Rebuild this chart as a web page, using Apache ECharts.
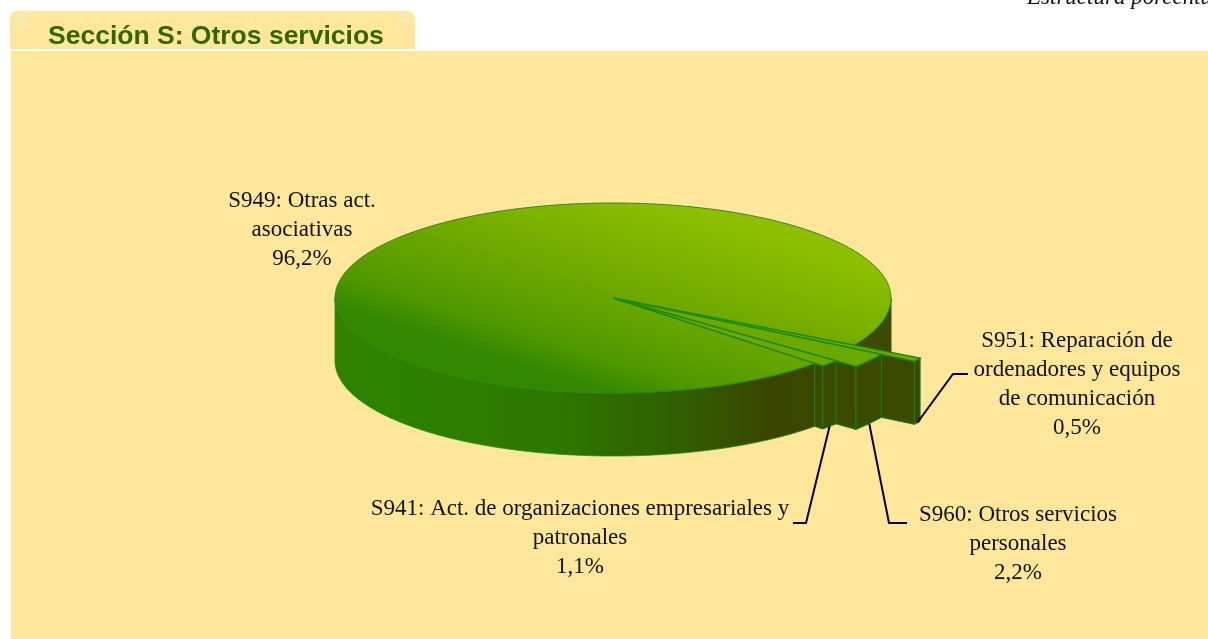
<!DOCTYPE html>
<html><head><meta charset="utf-8">
<style>html,body{margin:0;padding:0;background:#fff;overflow:hidden}#c{width:1208px;height:639px}</style>
<script src="https://cdn.jsdelivr.net/npm/echarts@6/dist/echarts.min.js"></script>
</head><body><div id="c"></div>
<script>
// Data, in drawing order (back to front)
const categories = ['S949', 'S951', 'S960', 'S941'];
const labelTexts = [
  'S949: Otras act.\nasociativas',
  'S951: Reparación de\nordenadores y equipos\nde comunicación',
  'S960: Otros servicios\npersonales',
  'S941: Act. de organizaciones empresariales y\npatronales'
];
const shares = [96.2, 0.5, 2.2, 1.1];
const titleText = 'Sección S: Otros servicios';
const cornerText = 'Estructura porcentual';

// Layout
const CX = 613, CY = 298, RX = 278, RY = 95, DEPTH = 63, START = 29.8;
const ASPECT = RY / RX;
const pull = [1, 1.273, 1.133, 1.04];              // radial reach of each slice
const labelPos = [[302, 186], [1077, 326], [1018, 500], [580, 494]];
const leaders = [null, [[953, 374], [968, 374]], [[889, 523], [907, 523]], [[806, 523], [793, 523]]];
const FONT = '23px "Liberation Serif", serif';

// Angular extent of every slice, derived from the shares
const total = shares.reduce((a, b) => a + b, 0);
const ranges = [];
(function () {
  let a = START;
  [1, 2, 3].forEach(i => { const s = a, e = a + shares[i] / total * 360; ranges[i] = [s, e]; a = e; });
  ranges[0] = [a, START + 360];
})();

const pt = (deg, r, dz) => {
  const t = deg * Math.PI / 180;
  return [CX + r * Math.cos(t), CY + r * Math.sin(t) * ASPECT + (dz || 0)];
};
const arc = (a, b, r, dz) => {
  const out = [], n = Math.max(2, Math.ceil(Math.abs(b - a) / 0.5));
  for (let i = 0; i <= n; i++) out.push(pt(a + (b - a) * i / n, r, dz));
  return out;
};

const G = echarts.graphic.LinearGradient;
const topFill = new G(680, 205, 620, 395, [
  { offset: 0, color: '#8cc000' }, { offset: 0.5, color: '#6ea800' },
  { offset: 0.85, color: '#4f9800' }, { offset: 1, color: '#348800' }], true);
const rimFill = new G(335, 0, 891, 0, [
  { offset: 0, color: '#2e8200' }, { offset: 0.39, color: '#2c7a00' },
  { offset: 0.51, color: '#2f6a00' }, { offset: 0.65, color: '#325a00' },
  { offset: 0.78, color: '#3a4600' }, { offset: 1, color: '#3b4a00' }], true);
const WALL = '#3b4a00', EDGE = '#1f7f10', RIMEDGE = '#2a8a10', WEDGETOP = '#6ba800';

function poly(points, fill, stroke, w) {
  return { type: 'polygon', shape: { points }, style: { fill, stroke: stroke || fill, lineWidth: w === undefined ? 1 : w } };
}

function renderSlice(params, api) {
  const i = params.dataIndex;
  const [s, e] = ranges[i];
  const r = RX * pull[i];
  const kids = [];
  if (i === 0) {
    // the main disc: visible rim (both sides of the notch), then top
    const rim1 = arc(0, START, r), rim2 = arc(s, 180, r);
    kids.push(poly(rim1.concat(arc(START, 0, r, DEPTH)), WALL, '#3a5000', 1));
    kids.push(poly(rim2.concat(arc(180, s, r, DEPTH)), rimFill, RIMEDGE, 0.8));
    kids.push(poly([[CX, CY]].concat(arc(s, e, r)), topFill, RIMEDGE, 1));
  } else {
    // radial wall on the front side: only the part that sticks out of the disc
    kids.push(poly([pt(e, RX), pt(e, r), pt(e, r, DEPTH), pt(e, RX, DEPTH)], WALL, EDGE, 1));
    // outer face
    kids.push(poly(arc(s, e, r).concat(arc(e, s, r, DEPTH)), WALL, EDGE, 1));
    // top
    kids.push(poly([[CX, CY]].concat(arc(s, e, r)), WEDGETOP, '#1c8a08', 1.4));
  }
  // Label, and its leader line from the slice's outer lower edge
  const pct = shares[i].toFixed(1).replace('.', ',') + '%';
  kids.push({
    type: 'text', z2: 20,
    style: { text: labelTexts[i] + '\n' + pct, x: labelPos[i][0], y: labelPos[i][1], font: FONT,
      fill: '#111', align: 'center', verticalAlign: 'top', lineHeight: 29 }
  });
  if (leaders[i]) {
    const m = (s + e) / 2;
    kids.push({
      type: 'polyline', z2: 19,
      shape: { points: [pt(m, r, DEPTH)].concat(leaders[i]) },
      style: { stroke: '#000', lineWidth: 2, fill: null }
    });
  }
  return { type: 'group', children: kids };
}

const PANEL = '#fee79b';
const chart = echarts.init(document.getElementById('c'), null, { renderer: 'canvas' });
const fade = (cx, cy) => ({
  type: 'circle', z: -5, shape: { cx, cy, r: 14 },
  style: { fill: new echarts.graphic.RadialGradient(cx, cy, 14, [
    { offset: 0, color: 'rgba(240,236,220,0.6)' }, { offset: 1, color: 'rgba(254,231,155,0)' }], true) }
});
chart.setOption({
  animation: false,
  backgroundColor: '#fff',
  title: {
    text: titleText, left: 43, top: 18,
    textStyle: { fontFamily: '"Liberation Sans", Arial, sans-serif', fontSize: 26.5, fontWeight: 'bold', color: '#336600' }
  },
  graphic: [
    { type: 'rect', z: -10, shape: { x: 11, y: 51, width: 1197, height: 588 }, style: { fill: PANEL } },
    { type: 'rect', z: -10, shape: { x: 10, y: 11, width: 405, height: 38, r: [8, 8, 0, 0] }, style: { fill: PANEL } },
    fade(21, 20), fade(404, 20),
    { type: 'text', z: 5, style: { text: cornerText, x: 1027, y: 9, font: 'italic 23px "Liberation Serif", serif', fill: '#111', verticalAlign: 'bottom' } }
  ],
  series: [{
    type: 'custom', coordinateSystem: 'none', clip: false, silent: true,
    data: categories.map((c, i) => ({ name: c, value: shares[i] })),
    renderItem: renderSlice
  }]
});
</script></body></html>
